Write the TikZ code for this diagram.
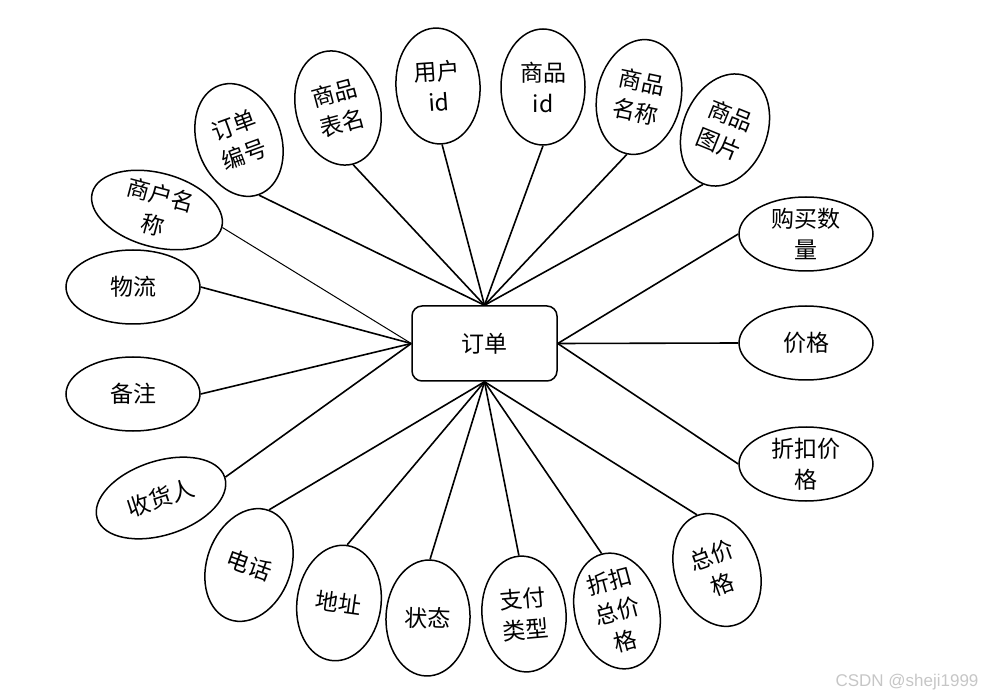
\documentclass[tikz,border=0pt]{standalone}
\usepackage{fontspec}
\setmainfont{Noto Sans CJK SC}
\newfontfamily\wmfont{Liberation Sans}
\usepackage{tikz}
\usetikzlibrary{
  shapes.geometric
}

\begin{document}
\begin{tikzpicture}[x=1pt,y=-1pt,
  entity/.style={draw,rounded corners=10pt,line width=1.5pt,
    minimum width=145pt,minimum height=75pt,font=\fontsize{23}{30}\selectfont},
  tallattr/.style={draw,ellipse,line width=1.5pt,inner sep=0pt,align=center,
    minimum width=84pt,minimum height=116pt,font=\fontsize{23}{31}\selectfont},
  wideattr/.style={draw,ellipse,line width=1.5pt,inner sep=0pt,align=center,
    minimum width=134pt,minimum height=74pt,font=\fontsize{23}{31}\selectfont},
  link/.style={line width=1.6pt}]
  \useasboundingbox (0,0) rectangle (988,700);

  % Entity in the middle
  \node[entity] (order) at (484.5,343.5) {订单};

  % Upright attributes above and below
  \foreach \nm/\x/\y/\r/\txt/\src/\tgt in {
      orderno/239/140/20/{订单\\编号}/south/north,
      tablename/338/108/15/{商品\\表名}/south/north,
      userid/438/86/4/{用户\\id}/south/north,
      goodsid/543/87/0/{商品\\id}/south/north,
      goodsname/639/97/-12/{商品\\名称}/south/north,
      goodspic/725/130/-22/{商品\\图片}/south/north,
      total/717/570/20/{总价\\格}/north/south,
      disctotal/617/611/15/{折扣\\总价\\格}/north/south,
      paytype/524/614/5/{支付\\类型}/north/south,
      status/428/618/-2/{状态}/north/south,
      address/339/603/-8/{地址}/north/south,
      phone/249/565/-20/{电话}/north/south}{
    \node[tallattr,rotate=\r] (\nm) at (\x,\y) {\txt};
    \draw[link] (\nm.\src) -- (order.\tgt);
  }

  % Flat attributes left and right
  \foreach \nm/\x/\y/\r/\txt/\src/\tgt/\lw in {
      qty/806/234/0/{购买数\\量}/west/east/1.6,
      price/806/343/0/{价格}/west/east/1.6,
      discprice/806/464/0/{折扣价\\格}/west/east/1.6,
      receiver/161/498/18/{收货人}/east/west/1.6,
      remark/133/394/0/{备注}/east/west/1.6,
      logistics/133/287/0/{物流}/east/west/1.6,
      merchant/157/210/-15/{商户名\\称}/east/west/1}{
    \node[wideattr,rotate=\r] (\nm) at (\x,\y) {\txt};
    \draw[link,line width=\lw pt] (\nm.\src) -- (order.\tgt);
  }

  % Watermark
  \node[font=\wmfont\fontsize{17}{17}\selectfont,text=gray!45] (mark) at (907,682) {CSDN @sheji1999};
\end{tikzpicture}
\end{document}
